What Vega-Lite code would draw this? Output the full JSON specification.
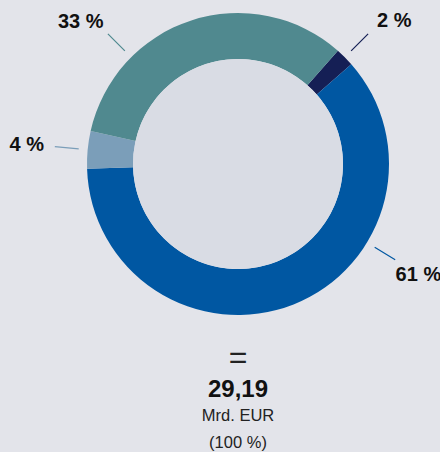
{
  "$schema": "https://vega.github.io/schema/vega-lite/v6.json",
  "width": 404,
  "height": 328,
  "autosize": {"type": "none"},
  "padding": {"left": 36, "top": 0, "right": 0, "bottom": 124},
  "background": "#e3e4ea",
  "config": {"view": {"stroke": null}, "font": "Liberation Sans"},
  "title": {
    "text": "29,19",
    "subtitle": ["Mrd. EUR", "(100 %)"],
    "orient": "bottom",
    "anchor": "middle",
    "frame": "group",
    "offset": 4,
    "fontSize": 24,
    "fontWeight": "bold",
    "color": "#111111",
    "subtitleFont": "Liberation Sans",
    "subtitleFontSize": 16.5,
    "subtitleColor": "#222222",
    "subtitleLineHeight": 27,
    "subtitlePadding": 6
  },
  "datasets": {
    "shares": [
      {"cat": "Anteil 2 %", "value": 2, "idx": 1, "label": "2 %", "linePos": 1.0, "labelPos": 1.7},
      {"cat": "Anteil 61 %", "value": 61, "idx": 2, "label": "61 %", "linePos": 22.2, "labelPos": 22.3},
      {"cat": "Anteil 4 %", "value": 4, "idx": 3, "label": "4 %", "linePos": 65.0, "labelPos": 64.9},
      {"cat": "Anteil 33 %", "value": 33, "idx": 4, "label": "33 %", "linePos": 76.0, "labelPos": 75.2}
    ],
    "eq": [{"t": "="}],
    "disc": [{"k": 1}]
  },
  "layer": [
    {
      "data": {"name": "shares"},
      "mark": {"type": "arc", "radius": 151, "radius2": 105, "stroke": null},
      "encoding": {
        "theta": {"field": "value", "type": "quantitative", "stack": true, "scale": {"domain": [0, 100], "range": [0.7226, 7.0058]}},
        "color": {"field": "cat", "type": "nominal", "legend": null,
          "scale": {"domain": ["Anteil 2 %", "Anteil 61 %", "Anteil 4 %", "Anteil 33 %"], "range": ["#151f55", "#0057a2", "#7b9eb9", "#50898f"]}},
        "order": {"field": "idx", "type": "quantitative"}
      }
    },
    {
      "data": {"name": "disc"},
      "mark": {"type": "arc", "radius": 105, "theta": 0, "theta2": 6.2832, "fill": "#d9dce4", "stroke": null},
      "encoding": {}
    },
    {
      "data": {"name": "shares"},
      "mark": {"type": "arc", "radius": 184, "radius2": 160, "fillOpacity": 0, "strokeWidth": 1.2},
      "encoding": {
        "theta": {"field": "linePos", "type": "quantitative", "stack": null, "scale": {"domain": [0, 100], "range": [0.7226, 7.0058]}},
        "theta2": {"field": "linePos"},
        "stroke": {"field": "cat", "type": "nominal", "legend": null,
          "scale": {"domain": ["Anteil 2 %", "Anteil 61 %", "Anteil 4 %", "Anteil 33 %"], "range": ["#151f55", "#0057a2", "#7b9eb9", "#50898f"]}}
      }
    },
    {
      "data": {"name": "shares"},
      "mark": {"type": "text", "radius": 212, "fontSize": 20, "fontWeight": "bold", "color": "#111111", "baseline": "middle", "align": "center"},
      "encoding": {
        "theta": {"field": "labelPos", "type": "quantitative", "stack": null, "scale": {"domain": [0, 100], "range": [0.7226, 7.0058]}},
        "text": {"field": "label", "type": "nominal"}
      }
    },
    {
      "data": {"name": "eq"},
      "mark": {"type": "text", "fontSize": 32, "dy": 194, "color": "#222222", "baseline": "middle", "align": "center"},
      "encoding": {"text": {"field": "t", "type": "nominal"}}
    }
  ]
}
